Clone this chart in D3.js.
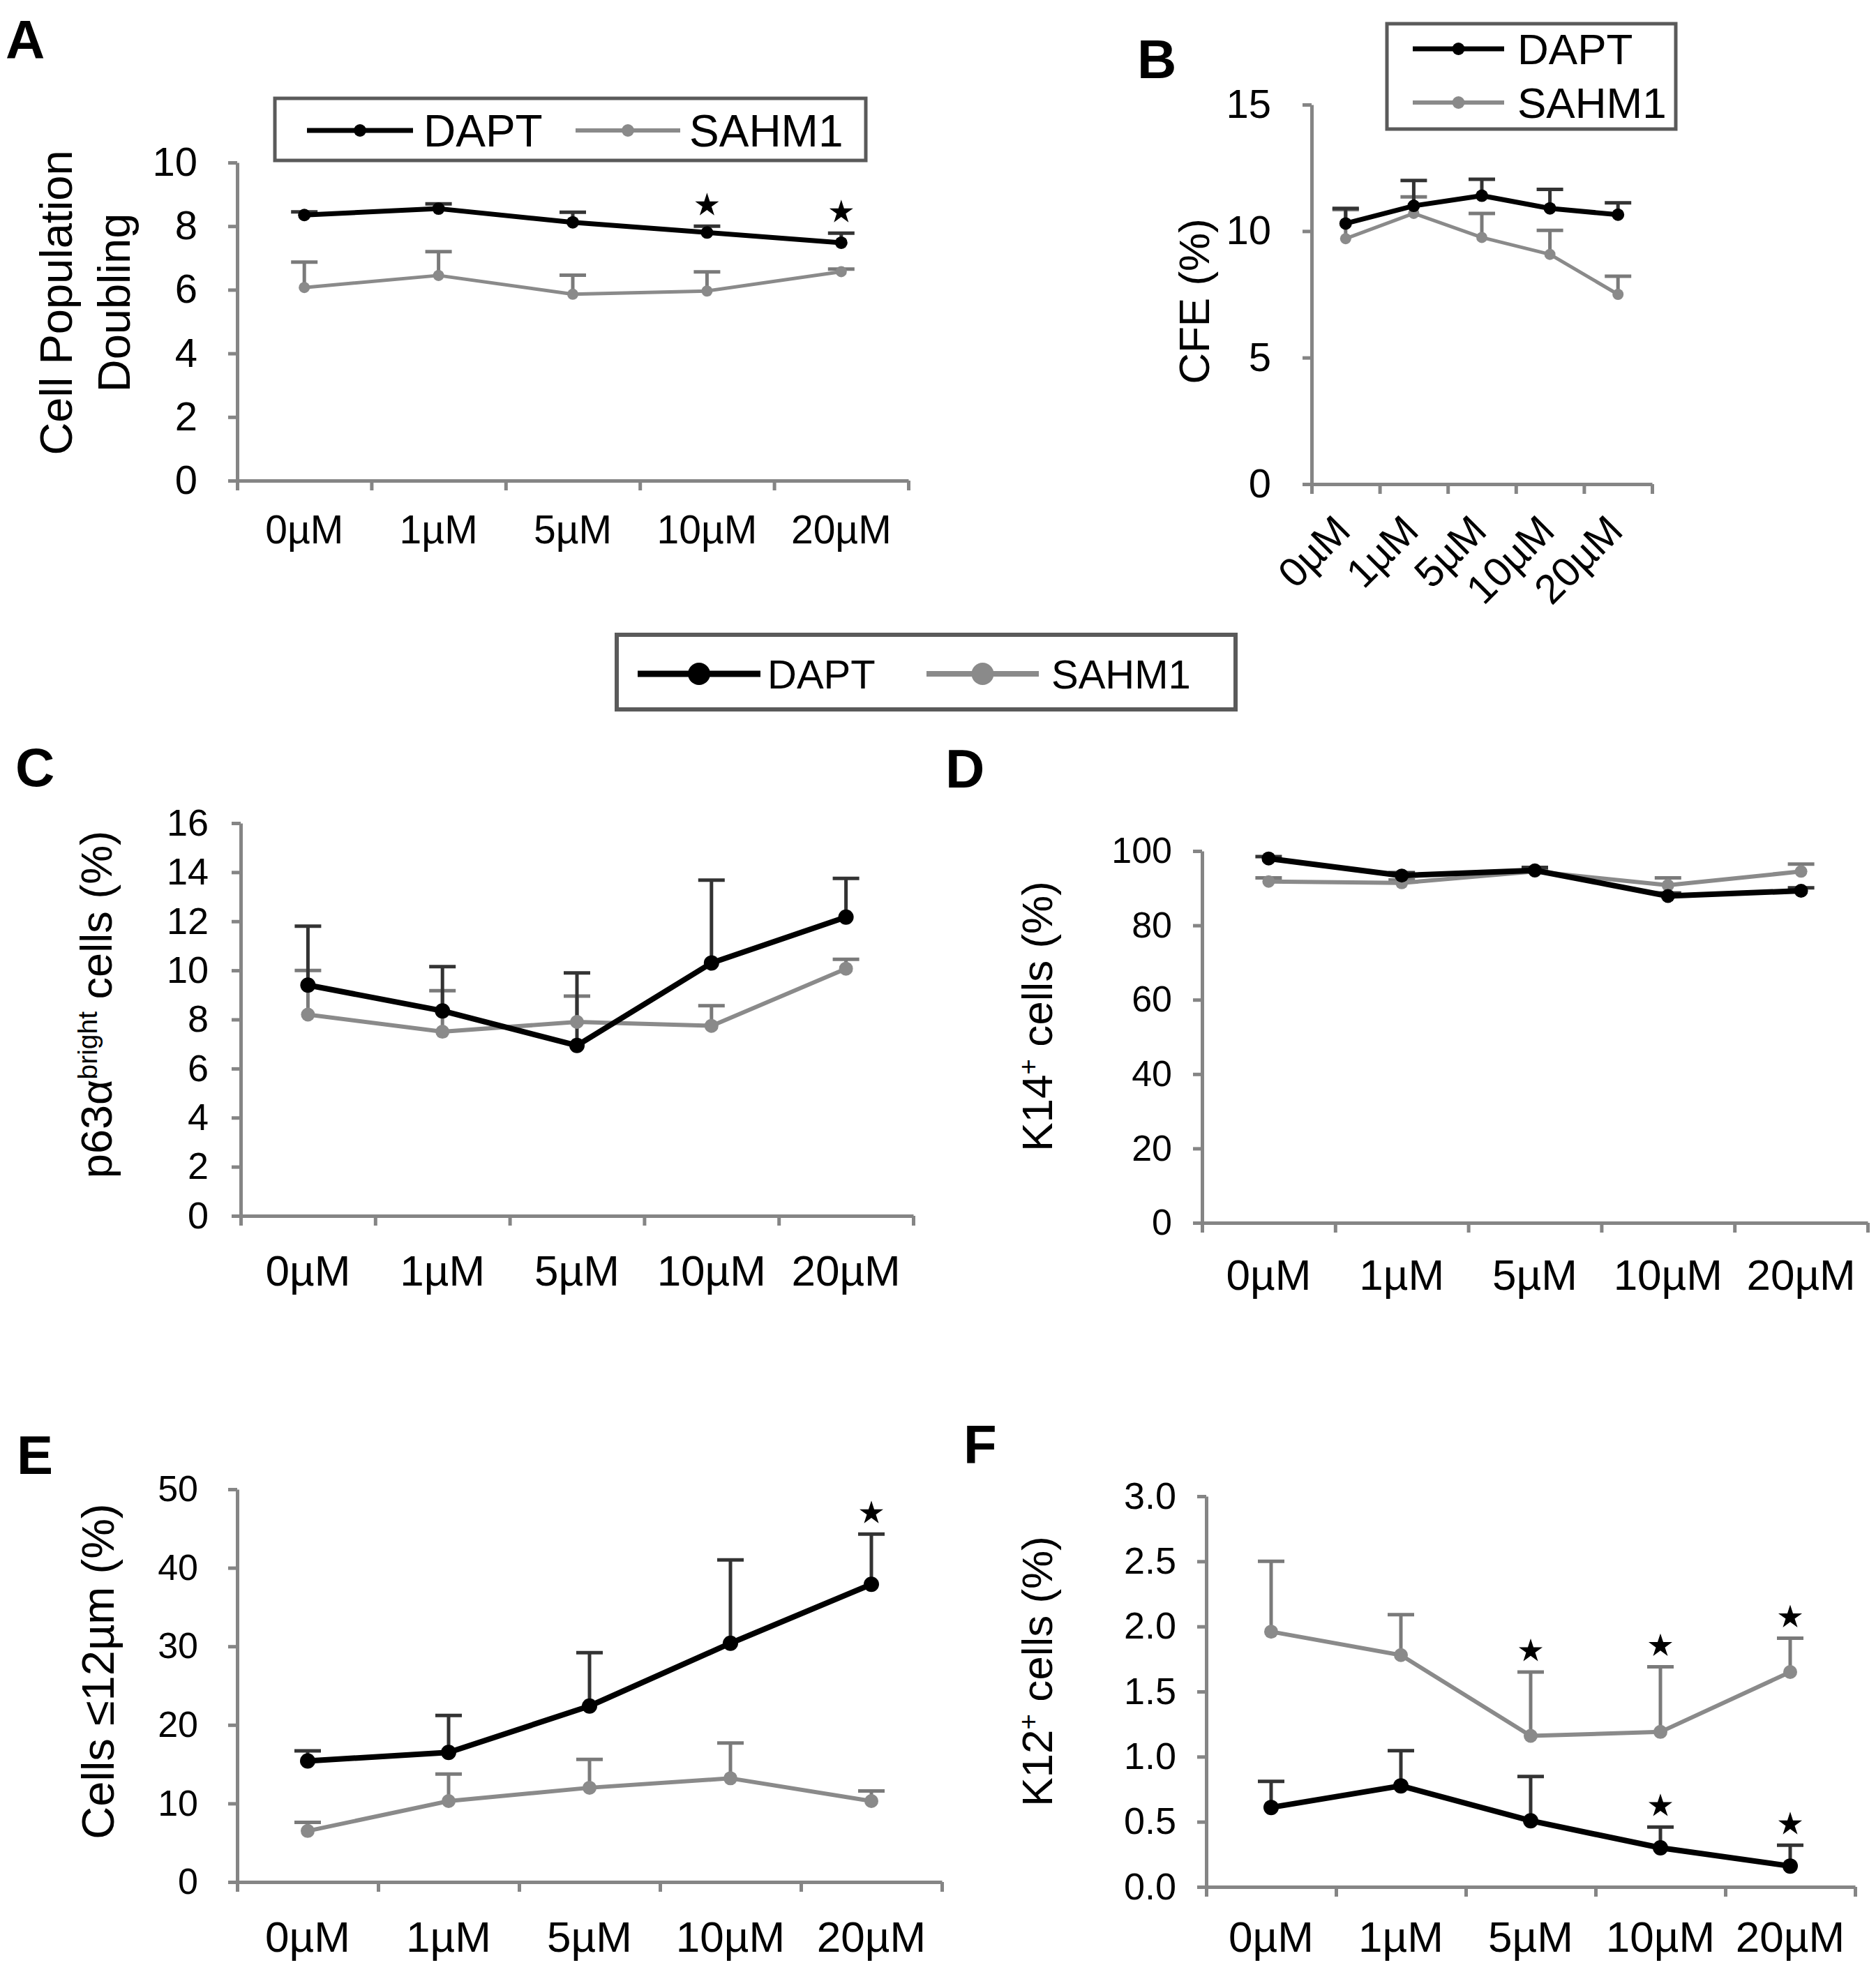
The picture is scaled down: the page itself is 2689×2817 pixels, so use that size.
<!DOCTYPE html>
<html><head><meta charset="utf-8">
<script src="https://cdn.jsdelivr.net/npm/d3@7"></script>
<style>body{margin:0;background:#fff}svg{display:block}text{font-family:"Liberation Sans",Arial,Helvetica,sans-serif}</style>
</head><body>
<svg id="c" width="2689" height="2817"></svg>
<script>
// ---------------- DATA ----------------
const categories = ["0µM", "1µM", "5µM", "10µM", "20µM"];
const seriesNames = ["DAPT", "SAHM1"];

// A: Cell Population Doubling
const ticksA = [0, 2, 4, 6, 8, 10];
const daptA = [8.35, 8.55, 8.12, 7.8, 7.48];
const daptAErr = [0.1, 0.15, 0.32, 0.2, 0.3];
const sahmA = [6.07, 6.45, 5.86, 5.96, 6.57];
const sahmAErr = [0.8, 0.75, 0.6, 0.6, 0.08];
const starsDaptA = [0, 0, 0, 1, 1];
const starsSahmA = [0, 0, 0, 0, 0];

// B: CFE (%)
const ticksB = [0, 5, 10, 15];
const daptB = [10.3, 11.0, 11.4, 10.9, 10.65];
const daptBErr = [0.6, 1.0, 0.65, 0.75, 0.47];
const sahmB = [9.7, 10.7, 9.75, 9.08, 7.5];
const sahmBErr = [1.15, 0.65, 0.95, 0.95, 0.72];
const starsDaptB = [0, 0, 0, 0, 0];
const starsSahmB = [0, 0, 0, 0, 0];

// C: p63alpha bright cells (%)
const ticksC = [0, 2, 4, 6, 8, 10, 12, 14, 16];
const daptC = [9.4, 8.35, 6.94, 10.3, 12.17];
const daptCErr = [2.4, 1.8, 2.96, 3.38, 1.58];
const sahmC = [8.2, 7.5, 7.9, 7.74, 10.07];
const sahmCErr = [1.8, 1.67, 1.05, 0.82, 0.38];
const starsDaptC = [0, 0, 0, 0, 0];
const starsSahmC = [0, 0, 0, 0, 0];

// D: K14+ cells (%)
const ticksD = [0, 20, 40, 60, 80, 100];
const daptD = [98, 93.4, 94.8, 87.9, 89.3];
const daptDErr = [0.5, 0.8, 0.8, 0.8, 0.8];
const sahmD = [91.8, 91.4, 94.5, 90.8, 94.5];
const sahmDErr = [1.0, 0.8, 0.8, 2.0, 2.0];
const starsDaptD = [0, 0, 0, 0, 0];
const starsSahmD = [0, 0, 0, 0, 0];

// E: Cells <=12um (%)
const ticksE = [0, 10, 20, 30, 40, 50];
const daptE = [15.4, 16.5, 22.4, 30.4, 37.9];
const daptEErr = [1.3, 4.7, 6.8, 10.6, 6.4];
const sahmE = [6.5, 10.3, 12.0, 13.2, 10.3];
const sahmEErr = [1.1, 3.45, 3.6, 4.5, 1.3];
const starsDaptE = [0, 0, 0, 0, 1];
const starsSahmE = [0, 0, 0, 0, 0];

// F: K12+ cells (%)
const ticksF = [0, 0.5, 1.0, 1.5, 2.0, 2.5, 3.0];
const daptF = [0.61, 0.776, 0.508, 0.3, 0.16];
const daptFErr = [0.2, 0.27, 0.34, 0.16, 0.16];
const sahmF = [1.96, 1.78, 1.16, 1.19, 1.65];
const sahmFErr = [0.54, 0.31, 0.49, 0.5, 0.26];
const starsDaptF = [0, 0, 0, 1, 1];
const starsSahmF = [0, 0, 1, 1, 1];

// ---------------- DRAWING ----------------
const FONT = '"Liberation Sans",Arial,Helvetica,sans-serif';
const AXC = "#858585", DC = "#000", SC = "#8a8a8a", DEC = "#333", SEC = "#7a7a7a";
const svg = d3.select("#c");
svg.append("rect").attr("width", 2689).attr("height", 2817).attr("fill", "#fff");

function panel(p) {
  const g = svg.append("g");
  const x = d3.scaleBand().domain(categories).range([p.x0, p.x1]);
  const y = d3.scaleLinear().domain([0, p.max]).range([p.yb, p.yt]);
  const cx = c => x(c) + x.bandwidth() / 2;

  const ya = g.append("g").attr("transform", `translate(${p.x0},0)`)
    .call(d3.axisLeft(y).tickValues(p.ticks).tickFormat(p.fmt || d3.format("d"))
      .tickSize(13).tickSizeOuter(0).tickPadding(p.ypad));
  ya.attr("font-family", FONT).attr("font-size", p.yfs);
  const xt = d3.scaleLinear().domain([0, categories.length]).range([p.x0, p.x1]);
  const xa = g.append("g").attr("transform", `translate(0,${p.yb})`)
    .call(d3.axisBottom(xt).tickValues(d3.range(categories.length + 1)).tickSize(14)
      .tickSizeOuter(0).tickFormat(""));
  [ya, xa].forEach(a => a.selectAll("path.domain, line").attr("stroke", AXC).attr("stroke-width", 5));
  ya.selectAll("text").attr("fill", "#000");

  const xl = g.append("g").attr("transform", `translate(0,${p.yb})`)
    .call(d3.axisBottom(x).tickSize(0));
  xl.select(".domain").remove();
  xl.attr("font-family", FONT).attr("font-size", p.xfs);
  const xtxt = xl.selectAll("text").attr("fill", "#000").attr("dy", null);
  if (p.rot) {
    xtxt.attr("y", 0).attr("text-anchor", "end")
      .attr("transform", `translate(10,${p.xly}) rotate(-45)`);
  } else {
    xtxt.attr("y", p.xly);
  }

  const series = [
    { v: p.sahm, e: p.sahmErr, st: p.starsS, col: SC, ecol: SEC, lw: p.lwS, r: p.rS },
    { v: p.dapt, e: p.daptErr, st: p.starsD, col: DC, ecol: DEC, lw: p.lwD, r: p.rD }
  ];
  const line = d3.line().x(d => cx(d.c)).y(d => y(d.v));
  series.forEach(s => {
    const data = categories.map((c, i) => ({ c, v: s.v[i], e: s.e[i], st: s.st[i] }));
    const eg = g.append("g").attr("stroke", s.ecol).attr("stroke-width", 5);
    eg.selectAll("line.v").data(data).join("line").attr("class", "v")
      .attr("x1", d => cx(d.c)).attr("x2", d => cx(d.c))
      .attr("y1", d => y(d.v)).attr("y2", d => y(d.v + d.e));
    eg.selectAll("line.cap").data(data).join("line").attr("class", "cap")
      .attr("x1", d => cx(d.c) - 19).attr("x2", d => cx(d.c) + 19)
      .attr("y1", d => y(d.v + d.e)).attr("y2", d => y(d.v + d.e));
    s.data = data;
  });
  series.forEach(s => {
    g.append("path").datum(s.data).attr("d", line).attr("fill", "none")
      .attr("stroke", s.col).attr("stroke-width", s.lw).attr("stroke-linejoin", "round");
    g.selectAll(null).data(s.data).join("circle")
      .attr("cx", d => cx(d.c)).attr("cy", d => y(d.v)).attr("r", s.r).attr("fill", s.col);
    g.selectAll(null).data(s.data.filter(d => d.st)).join("path")
      .attr("d", d3.symbol(d3.symbolStar, 360))
      .attr("transform", d => `translate(${cx(d.c)},${y(d.v + d.e) - 30})`)
      .attr("fill", "#000");
  });

  const t = g.append("g").attr("font-family", FONT).attr("font-size", p.tfs).attr("fill", "#000");
  p.title.forEach((ln, i) => {
    const tx = t.append("text").attr("text-anchor", "middle")
      .attr("transform", `translate(${p.tx[i]},${p.ty}) rotate(-90)`);
    ln.forEach(part => {
      const ts = tx.append("tspan").text(part.s);
      if (part.sup) ts.attr("font-size", p.tfs * 0.62).attr("baseline-shift", "super");
    });
  });
  svg.append("text").attr("x", p.lx).attr("y", p.ly).attr("font-family", FONT)
    .attr("font-weight", "bold").attr("font-size", 78).attr("fill", "#000").text(p.letter);
}

function legend(L) {
  const g = svg.append("g");
  g.append("rect").attr("x", L.x).attr("y", L.y).attr("width", L.w).attr("height", L.h)
    .attr("fill", "#fff").attr("stroke", "#5a5a5a").attr("stroke-width", L.bw);
  const cols = [DC, SC];
  seriesNames.forEach((name, i) => {
    const it = L.items[i];
    g.append("line").attr("x1", it.l0).attr("x2", it.l1).attr("y1", it.y).attr("y2", it.y)
      .attr("stroke", cols[i]).attr("stroke-width", L.lw[i]);
    g.append("circle").attr("cx", (it.l0 + it.l1) / 2).attr("cy", it.y).attr("r", L.r).attr("fill", cols[i]);
    g.append("text").attr("x", it.tx).attr("y", it.y + L.fs * 0.36).attr("font-family", FONT)
      .attr("font-size", L.fs).attr("fill", "#000").text(name);
  });
}

const f1 = d3.format(".1f");
panel({ letter: "A", lx: 8, ly: 84, x0: 340, x1: 1302, yt: 233, yb: 689, max: 10, ticks: ticksA,
  ypad: 44, yfs: 58, xfs: 57, xly: 90, dapt: daptA, daptErr: daptAErr, sahm: sahmA, sahmErr: sahmAErr,
  starsD: starsDaptA, starsS: starsSahmA, lwD: 7, lwS: 5, rD: 9, rS: 8,
  title: [[{ s: "Cell Population" }], [{ s: "Doubling" }]], tx: [103, 186], ty: 434, tfs: 65 });
panel({ letter: "B", lx: 1630, ly: 112, x0: 1880, x1: 2368, yt: 150, yb: 694, max: 15, ticks: ticksB,
  ypad: 45, yfs: 58, xfs: 59, xly: 70, rot: true, dapt: daptB, daptErr: daptBErr, sahm: sahmB, sahmErr: sahmBErr,
  starsD: starsDaptB, starsS: starsSahmB, lwD: 7, lwS: 5, rD: 9, rS: 8,
  title: [[{ s: "CFE (%)" }]], tx: [1733], ty: 432, tfs: 62 });
panel({ letter: "C", lx: 22, ly: 1127, x0: 345, x1: 1309, yt: 1180, yb: 1743, max: 16, ticks: ticksC,
  ypad: 33, yfs: 54, xfs: 62, xly: 100, dapt: daptC, daptErr: daptCErr, sahm: sahmC, sahmErr: sahmCErr,
  starsD: starsDaptC, starsS: starsSahmC, lwD: 8, lwS: 6, rD: 11, rS: 10,
  title: [[{ s: "p63α" }, { s: "bright", sup: true }, { s: " cells (%)" }]], tx: [160], ty: 1440, tfs: 63 });
panel({ letter: "D", lx: 1355, ly: 1129, x0: 1723, x1: 2677, yt: 1220, yb: 1753, max: 100, ticks: ticksD,
  ypad: 30, yfs: 52, xfs: 62, xly: 96, dapt: daptD, daptErr: daptDErr, sahm: sahmD, sahmErr: sahmDErr,
  starsD: starsDaptD, starsS: starsSahmD, lwD: 8, lwS: 6, rD: 10, rS: 9,
  title: [[{ s: "K14" }, { s: "+", sup: true }, { s: " cells (%)" }]], tx: [1508], ty: 1457, tfs: 62 });
panel({ letter: "E", lx: 24, ly: 2113, x0: 340, x1: 1350, yt: 2135, yb: 2698, max: 50, ticks: ticksE,
  ypad: 43, yfs: 52, xfs: 62, xly: 100, dapt: daptE, daptErr: daptEErr, sahm: sahmE, sahmErr: sahmEErr,
  starsD: starsDaptE, starsS: starsSahmE, lwD: 8, lwS: 6, rD: 11, rS: 10,
  title: [[{ s: "Cells ≤12µm (%)" }]], tx: [163], ty: 2396, tfs: 65 });
panel({ letter: "F", lx: 1381, ly: 2098, x0: 1729, x1: 2659, yt: 2145, yb: 2705, max: 3, ticks: ticksF, fmt: f1,
  ypad: 30, yfs: 54, xfs: 62, xly: 93, dapt: daptF, daptErr: daptFErr, sahm: sahmF, sahmErr: sahmFErr,
  starsD: starsDaptF, starsS: starsSahmF, lwD: 8, lwS: 6, rD: 11, rS: 10,
  title: [[{ s: "K12" }, { s: "+", sup: true }, { s: " cells (%)" }]], tx: [1508], ty: 2396, tfs: 62 });

legend({ x: 394, y: 141, w: 847, h: 89, bw: 5, fs: 64, r: 9, lw: [7, 6],
  items: [{ l0: 440, l1: 592, y: 187, tx: 607 }, { l0: 825, l1: 975, y: 187, tx: 988 }] });
legend({ x: 1988, y: 34, w: 414, h: 151, bw: 5, fs: 62, r: 9, lw: [7, 6],
  items: [{ l0: 2025, l1: 2156, y: 70, tx: 2175 }, { l0: 2025, l1: 2156, y: 147, tx: 2175 }] });
legend({ x: 884, y: 910, w: 887, h: 107, bw: 6, fs: 58, r: 16, lw: [9, 8],
  items: [{ l0: 914, l1: 1090, y: 966, tx: 1100 }, { l0: 1328, l1: 1489, y: 966, tx: 1507 }] });
</script>
</body></html>
